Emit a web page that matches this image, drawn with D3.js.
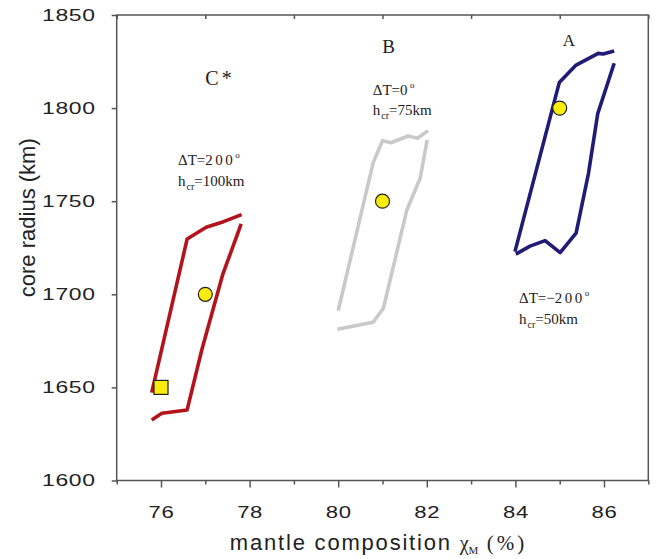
<!DOCTYPE html>
<html>
<head>
<meta charset="utf-8">
<script src="https://cdn.jsdelivr.net/npm/d3@7/dist/d3.min.js"></script>
<style>
  html, body { margin: 0; padding: 0; background: #fff; }
  svg { display: block; }
</style>
</head>
<body>
<svg id="chart" width="657" height="559"></svg>
<script>
// ---- data ----
const xMajorTicks = [76, 78, 80, 82, 84, 86];
const xMinorTicks = [75, 77, 79, 81, 83, 85, 87];
const yTicks = [1600, 1650, 1700, 1750, 1800, 1850];

// Case C* (ΔT=200°, h_cr=100km) - red
const cLeftX  = [75.79, 76.59, 77.02, 77.41, 77.82];
const cLeftY  = [1647.2, 1729.7, 1736.0, 1739.0, 1742.8];
const cRightX = [75.79, 76.02, 76.59, 76.92, 77.39, 77.81];
const cRightY = [1632.5, 1636.1, 1637.9, 1670.1, 1710.4, 1737.8];

// Case B (ΔT=0°, h_cr=75km) - gray
const bLeftX  = [80.00, 80.79, 81.00, 81.19, 81.58, 81.79, 82.03];
const bLeftY  = [1691.2, 1770.7, 1782.5, 1781.4, 1785.0, 1783.8, 1787.9];
const bRightX = [82.01, 81.85, 81.55, 81.02, 80.79, 79.98];
const bRightY = [1782.9, 1762.3, 1745.3, 1692.5, 1685.0, 1681.2];

// Case A (ΔT=-200°, h_cr=50km) - navy
const aLeftX  = [83.99, 84.99, 85.37, 85.87, 85.98, 86.23];
const aLeftY  = [1722.9, 1813.7, 1823.1, 1829.4, 1829.1, 1830.7];
const aRightX = [86.23, 86.02, 85.86, 85.65, 85.37, 85.01, 84.67, 84.33, 84.01];
const aRightY = [1824.1, 1808.8, 1797.2, 1765.0, 1732.8, 1722.4, 1728.8, 1725.9, 1721.6];

// markers
const circleX = [77, 81, 85];
const circleY = [1700, 1750, 1800];
const squareX = [76];
const squareY = [1650];

// ---- layout ----
const svg = d3.select("#chart");
const L = 116.7, R = 648.3, T = 15, B = 480.5;
const x = d3.scaleLinear().domain([75, 87]).range([L, R]);
const y = d3.scaleLinear().domain([1600, 1850]).range([B, T]);
const axisColor = "#555";

// frame
svg.append("rect").attr("x", L).attr("y", T).attr("width", R - L).attr("height", B - T)
  .attr("fill", "none").attr("stroke", axisColor).attr("stroke-width", 1.5);

// bottom axis major
const gx = svg.append("g").attr("transform", `translate(0,${B})`)
  .call(d3.axisBottom(x).tickValues(xMajorTicks).tickSize(7).tickPadding(18).tickFormat(d3.format("d")));
gx.select(".domain").remove();
gx.selectAll("line").attr("stroke", axisColor).attr("stroke-width", 1.5);
gx.selectAll("text").attr("font-family", "Liberation Sans, Arial, sans-serif").attr("font-size", 17)
  .attr("fill", "#222").attr("letter-spacing", 0.5).attr("transform", "scale(1.3,1)");
// bottom axis minor
const gxm = svg.append("g").attr("transform", `translate(0,${B})`)
  .call(d3.axisBottom(x).tickValues(xMinorTicks).tickSize(4).tickFormat(""));
gxm.select(".domain").remove();
gxm.selectAll("line").attr("stroke", axisColor).attr("stroke-width", 1.5);
// top axis minor (inward)
const gxt = svg.append("g").attr("transform", `translate(0,${T})`)
  .call(d3.axisBottom(x).tickValues(xMinorTicks).tickSize(4).tickFormat(""));
gxt.select(".domain").remove();
gxt.selectAll("line").attr("stroke", axisColor).attr("stroke-width", 1.5);

// left axis
const sx = 1.35;
const gy = svg.append("g").attr("transform", `translate(${L},0)`)
  .call(d3.axisLeft(y).tickValues(yTicks).tickSize(5).tickPadding(16).tickFormat(d3.format("d")));
gy.select(".domain").remove();
gy.selectAll("line").attr("stroke", axisColor).attr("stroke-width", 1.5);
gy.selectAll("text").attr("font-family", "Liberation Sans, Arial, sans-serif").attr("font-size", 17)
  .attr("fill", "#222").attr("letter-spacing", 0.5)
  .attr("x", -21 / sx).attr("transform", `scale(${sx},1)`);

// axis titles
svg.append("text")
  .attr("transform", `translate(35,${(T + B) / 2 - 30}) rotate(-90)`)
  .attr("text-anchor", "middle")
  .attr("font-family", "Liberation Sans, Arial, sans-serif").attr("font-size", 22).attr("fill", "#222")
  .text("core radius (km)");

const xt = svg.append("text")
  .attr("x", (L + R) / 2 - 4).attr("y", 550)
  .attr("text-anchor", "middle")
  .attr("font-family", "Liberation Sans, Arial, sans-serif").attr("font-size", 22).attr("fill", "#222");
xt.append("tspan").attr("letter-spacing", 1.8).text("mantle composition ");
xt.append("tspan").attr("font-family", "Liberation Serif, Times New Roman, serif").attr("font-size", 20).text("χ");
xt.append("tspan").attr("font-family", "Liberation Serif, Times New Roman, serif").attr("font-size", 11).attr("dy", 4).text("M");
xt.append("tspan").attr("font-family", "Liberation Serif, Times New Roman, serif").attr("font-size", 21).attr("dy", -4)
  .attr("letter-spacing", 3).text(" (%)");

// lines
const line = d3.line().x(d => x(d[0])).y(d => y(d[1]));
const zip = (xs, ys) => xs.map((v, i) => [v, ys[i]]);
const series = [
  { xs: cLeftX, ys: cLeftY, color: "#b3141c" },
  { xs: cRightX, ys: cRightY, color: "#b3141c" },
  { xs: bLeftX, ys: bLeftY, color: "#c9c9c9" },
  { xs: bRightX, ys: bRightY, color: "#c9c9c9" },
  { xs: aLeftX, ys: aLeftY, color: "#201c76" },
  { xs: aRightX, ys: aRightY, color: "#201c76" }
];
svg.append("g").selectAll("path").data(series).join("path")
  .attr("d", s => line(zip(s.xs, s.ys)))
  .attr("fill", "none").attr("stroke", s => s.color).attr("stroke-width", 3.6)
  .attr("stroke-linejoin", "round").attr("stroke-linecap", "butt");

// markers
svg.append("g").selectAll("circle").data(zip(circleX, circleY)).join("circle")
  .attr("cx", d => x(d[0])).attr("cy", d => y(d[1])).attr("r", 7)
  .attr("fill", "#fbec0c").attr("stroke", "#222").attr("stroke-width", 1.2);
svg.append("g").selectAll("rect").data(zip(squareX, squareY)).join("rect")
  .attr("x", d => x(d[0]) - 7).attr("y", d => y(d[1]) - 7).attr("width", 14).attr("height", 14)
  .attr("fill", "#fbec0c").attr("stroke", "#222").attr("stroke-width", 1.2);

// annotations
const serif = "Liberation Serif, Times New Roman, serif";
function label(txt, cx, by, size, ls) {
  svg.append("text").attr("x", cx).attr("y", by).attr("text-anchor", "middle")
    .attr("font-family", serif).attr("font-size", size).attr("fill", "#222")
    .attr("letter-spacing", ls || 0).text(txt);
}
label("A", 569, 45.7, 17);
label("B", 388.5, 52.5, 19);
label("C*", 220, 85.3, 20, 3);

function dT(x0, by, pre, num) {
  const t = svg.append("text").attr("x", x0).attr("y", by)
    .attr("font-family", serif).attr("font-size", 15).attr("fill", "#222");
  t.append("tspan").text(pre);
  t.append("tspan").attr("letter-spacing", 2.5).text(num);
  t.append("tspan").attr("font-size", 9).attr("dy", -7).text("o");
}
function hcr(x0, by, val) {
  const t = svg.append("text").attr("x", x0).attr("y", by)
    .attr("font-family", serif).attr("font-size", 15).attr("fill", "#222");
  t.append("tspan").text("h");
  t.append("tspan").attr("font-size", 10).attr("dy", 4).attr("dx", 1).text("cr");
  t.append("tspan").attr("dy", -4).text("=" + val);
}
dT(178, 164.7, "ΔT=", "200");
hcr(178, 186, "100km");
dT(372.8, 94.7, "ΔT=", "0");
hcr(372.8, 114.7, "75km");
dT(519, 303, "ΔT=−", "200");
hcr(519, 323.5, "50km");
</script>
</body>
</html>
